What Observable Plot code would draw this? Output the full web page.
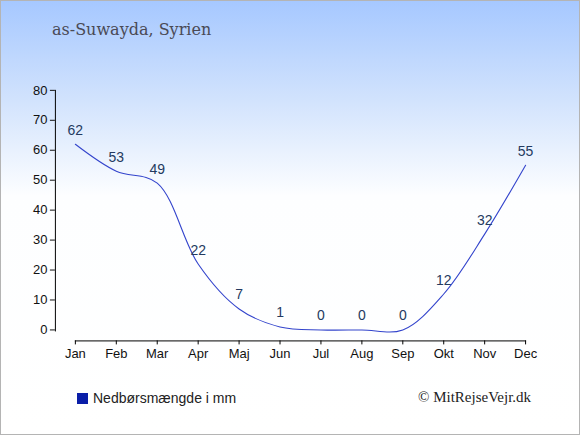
<!DOCTYPE html>
<html>
<head>
<meta charset="utf-8">
<script src="https://cdn.jsdelivr.net/npm/d3@7"></script>
<script src="https://cdn.jsdelivr.net/npm/@observablehq/plot@0.6"></script>
<style>
  html, body { margin: 0; padding: 0; }
  #wrap {
    position: relative; width: 578px; height: 433px;
    border: 1px solid #b4b4b4;
    background: linear-gradient(to bottom, #a6c8ff 0px, #d2e3fd 100px, #fdfeff 195px, #ffffff 100%);
    overflow: hidden;
  }
  #title {
    position: absolute; left: 51px; top: 19px;
    font-family: "DejaVu Serif", serif; font-size: 16px; color: #4a4a55;
  }
  #legend {
    position: absolute; left: 76px; top: 389px;
    font-family: "Liberation Sans", Arial, sans-serif; font-size: 14px; color: #222;
    display: flex; align-items: center;
  }
  #legend .sw { width: 11px; height: 11px; background: #0a1ea8; margin-right: 5px; }
  #credit {
    position: absolute; left: 417px; top: 388px;
    font-family: "Liberation Serif", "Times New Roman", serif; font-size: 15px; color: #222;
  }
  #chart { position: absolute; left: -1px; top: -1px; }
  #chart svg { background: transparent; overflow: visible; }
</style>
</head>
<body>
<div id="wrap">
  <div id="title">as-Suwayda, Syrien</div>
  <div id="chart"></div>
  <div id="legend"><div class="sw"></div><span>Nedbørsmængde i mm</span></div>
  <div id="credit">© MitRejseVejr.dk</div>
</div>
<script>
const months = ["Jan","Feb","Mar","Apr","Maj","Jun","Jul","Aug","Sep","Okt","Nov","Dec"];
const precip = [62, 53, 49, 22, 7, 1, 0, 0, 0, 12, 32, 55];
const yTicks = [0, 10, 20, 30, 40, 50, 60, 70, 80];

const data = months.map((m, i) => ({month: m, value: precip[i]}));

const chart = Plot.plot({
  width: 580,
  height: 435,
  marginTop: 90,
  marginBottom: 94,
  marginLeft: 55,
  marginRight: 54,
  insetLeft: 20,
  insetBottom: 11,
  style: {background: "transparent", fontFamily: "Liberation Sans, Arial, sans-serif", fontSize: "13px", color: "#111"},
  x: {type: "point", domain: months, padding: 0, label: null},
  y: {domain: [0, 80], label: null},
  marks: [
    Plot.frame({anchor: "left", insetBottom: 10, stroke: "#000"}),
    Plot.frame({anchor: "bottom", insetLeft: 20, stroke: "#000"}),
    Plot.axisY({ticks: yTicks, tickSize: 5, tickPadding: 3, label: null, fontSize: 13}),
    Plot.axisX({tickSize: 4, tickPadding: 4, label: null, fontSize: 13, stroke: "#000"}),
    Plot.line(data, {x: "month", y: "value", curve: "catmull-rom", stroke: "#3344cc", strokeWidth: 1.1}),
    Plot.text(data, {x: "month", y: "value", text: d => String(d.value), dy: -14, fill: "#243a60", fontSize: 14})
  ]
});
document.getElementById("chart").appendChild(chart);
</script>
</body>
</html>
